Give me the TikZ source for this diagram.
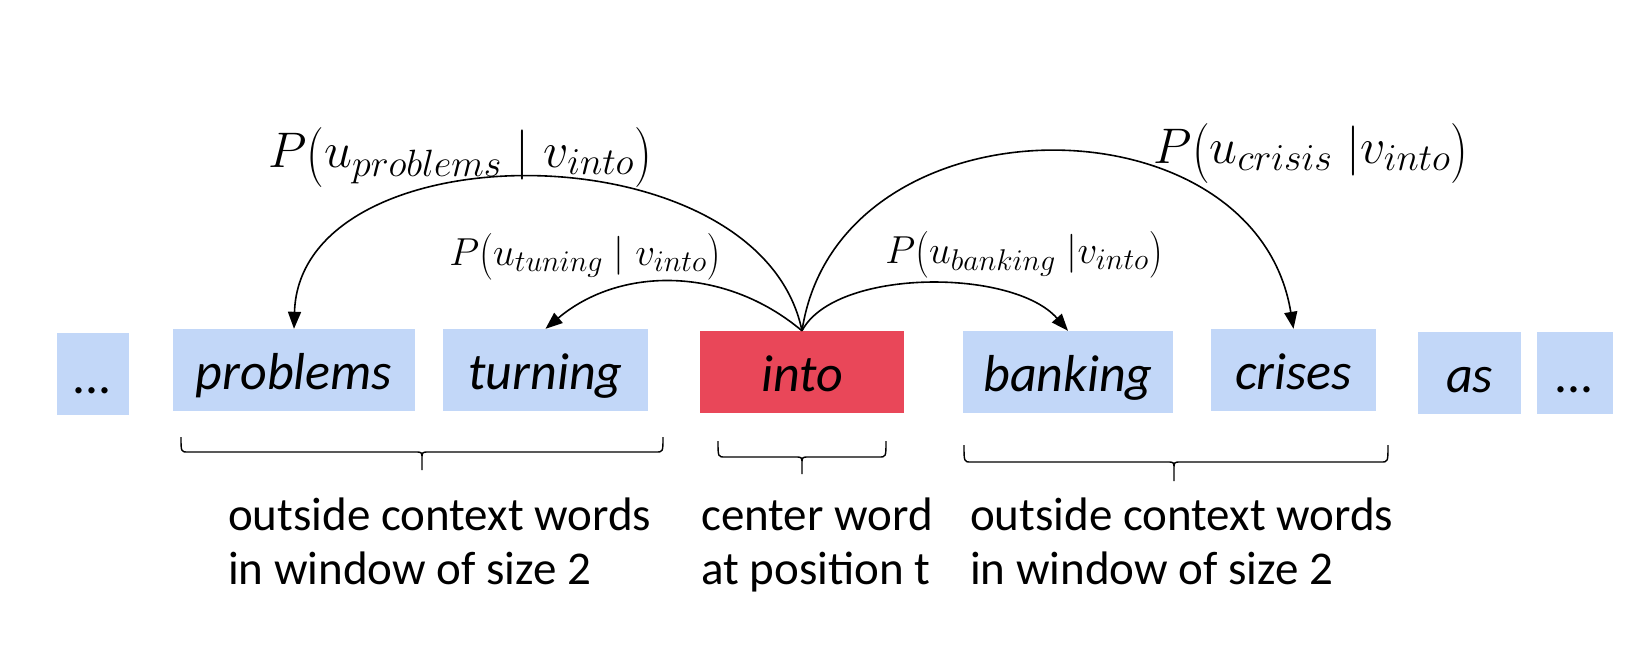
\documentclass[tikz,border=0pt]{standalone}
\usepackage{fix-cm}
\usepackage{graphicx}
\usepackage{fontspec}
\setmainfont{Carlito}
\DeclareMathSizes{50}{50}{38}{30}
\DeclareMathSizes{39}{39}{30}{22}
\usetikzlibrary{arrows.meta}
\definecolor{wblue}{HTML}{C2D7F8}
\definecolor{wred}{HTML}{E94759}
\newcommand{\lpar}{\mathopen{\raisebox{-0.1em}{\scalebox{1}[1.2]{$($}}}}
\newcommand{\rpar}{\mathclose{\raisebox{-0.1em}{\scalebox{1}[1.2]{$)$}}}}
\begin{document}
\begin{tikzpicture}[x=1pt,y=-1pt,
 wbox/.style={fill=wblue, draw=none, inner sep=0pt, text height=38pt, text depth=0pt, font=\fontsize{52}{60}\selectfont\itshape},
 cbox/.style={wbox, fill=wred},
 arc/.style={line width=1.6pt, -{Triangle[length=17pt,width=13pt]}},
 plabel/.style={anchor=base, inner sep=0pt},
 biglab/.style={plabel, font=\fontsize{50}{52}\selectfont},
 smalllab/.style={plabel, font=\fontsize{39}{41}\selectfont},
 bracepath/.style={line width=1.4pt},
 note/.style={anchor=base west, inner sep=0pt, font=\fontsize{47}{50}\selectfont}]
\useasboundingbox (0,0) rectangle (1626,664);
% word boxes
\node[wbox, minimum width=72pt, minimum height=82pt] (d1) at (93,374) {...};
\node[wbox, minimum width=242pt, minimum height=82pt] (prob) at (294,370) {problems};
\node[wbox, minimum width=205pt, minimum height=82pt] (turn) at (545.5,370) {turning};
\node[cbox, minimum width=204pt, minimum height=82pt] (into) at (802,372) {into};
\node[wbox, minimum width=210pt, minimum height=82pt] (bank) at (1068,372) {banking};
\node[wbox, minimum width=165pt, minimum height=82pt] (cris) at (1293.5,370) {crises};
\node[wbox, minimum width=103pt, minimum height=82pt] (as) at (1469.5,373) {as};
\node[wbox, minimum width=76pt, minimum height=82pt] (d2) at (1575,373) {...};
% arcs
\draw[arc] (into.north) .. controls (760,127) and (300,127) .. (prob.north);
\draw[arc] (into.north) .. controls (725,266) and (620,266) .. (turn.north);
\draw[arc] (into.north) .. controls (835,268) and (1013,268) .. (bank.north);
\draw[arc] (into.north) .. controls (838,93) and (1255,93) .. (cris.north);
% probability labels
\node[biglab] (lp) at (460,167) {$P\lpar u_{problems}\mid v_{into}\rpar$};
\node[smalllab] (lt) at (585,265) {$P\lpar u_{tuning}\mid v_{into}\rpar$};
\node[smalllab] (lb) at (1024,263) {$P\lpar u_{banking}\;|v_{into}\rpar$};
\node[biglab] (lc) at (1311,163) {$P\lpar u_{crisis}\;|v_{into}\rpar$};
% braces
\draw[bracepath] (181,437) .. controls (181,452) .. (188,452) -- (415,452) .. controls (422,452) .. (422,459) -- (422,470)
  (422,459) .. controls (422,452) .. (429,452) -- (656,452) .. controls (663,452) .. (663,437);
\draw[bracepath] (718,441) .. controls (718,457) .. (725,457) -- (795,457) .. controls (802,457) .. (802,464) -- (802,474)
  (802,464) .. controls (802,457) .. (809,457) -- (879,457) .. controls (886,457) .. (886,441);
\draw[bracepath] (964,445) .. controls (964,462) .. (971,462) -- (1167,462) .. controls (1174,462) .. (1174,469) -- (1174,481)
  (1174,469) .. controls (1174,462) .. (1181,462) -- (1381,462) .. controls (1388,462) .. (1388,445);
% notes
\node[note] (l1) at (228,530) {outside context words};
\node[note] (l2) at (228,584) {in window of size 2};
\node[note] (c1) at (701,530) {center word};
\node[note] (c2) at (701,584) {at position t};
\node[note] (r1) at (970,530) {outside context words};
\node[note] (r2) at (970,584) {in window of size 2};
\end{tikzpicture}
\end{document}
